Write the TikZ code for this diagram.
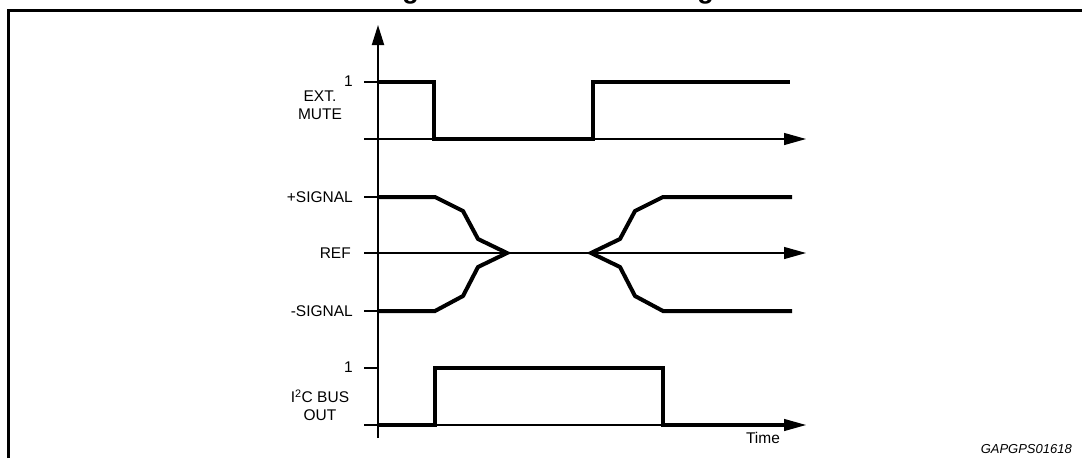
\documentclass[tikz,border=0pt]{standalone}
\usepackage{fontspec}
\setmainfont{Liberation Sans}
\usetikzlibrary{arrows.meta}
\tikzset{
  frameline/.style={line width=3pt},
  axisline/.style={line width=2pt},
  baseline/.style={line width=1.2pt},
  axisarrow/.style={line width=1.2pt,-{Triangle[length=22pt,width=12pt]}},
  yarrow/.style={line width=2pt,-{Triangle[length=20pt,width=12pt]}},
  tick/.style={line width=1.2pt},
  sig/.style={line width=4pt,line join=miter},
  lbl/.style={inner sep=0pt,font=\fontsize{15.5}{18}\selectfont},
  ref/.style={inner sep=0pt,font=\fontsize{13}{15}\selectfont\itshape},
  ttl/.style={inner sep=0pt,font=\fontsize{27}{30}\selectfont\bfseries}
}
\begin{document}
\begin{tikzpicture}[x=1pt,y=-1pt]
\useasboundingbox (0,0) rectangle (1082,458);
% title (cut off at the top)
\node[ttl,anchor=base] (title) at (546,-1.5) {Figure 7. Soft mute timing};
% frame
\coordinate (fl) at (8,458);
\coordinate (fc) at (8,10);
\coordinate (fr) at (1082,10);
\draw[frameline,line join=miter] (fl) -- (fc) -- (fr);
% y axis
\coordinate (ybot) at (378,438);
\coordinate (ytop) at (378,25);
\draw[yarrow] (ybot) -- (ytop);
% ---------- EXT. MUTE ----------
\coordinate (m1t) at (364,82);
\coordinate (m1a) at (378,82);
\coordinate (m0t) at (364,139);
\coordinate (m0e) at (806,139);
\draw[tick] (m1t) -- (m1a);
\draw[axisarrow] (m0t) -- (m0e);
\draw[sig] (378,82) -- (434,82) -- (434,139) -- (593,139) -- (593,82) -- (790,82);
\node[lbl,anchor=east] (one1) at (353,81) {1};
\node[lbl,align=center] (mute) at (320,105.5) {EXT.\\MUTE};
% ---------- SIGNAL ----------
\coordinate (pst) at (364,197);
\coordinate (psa) at (378,197);
\coordinate (rft) at (364,253);
\coordinate (rfe) at (806,253);
\coordinate (nst) at (364,311);
\coordinate (nsa) at (378,311);
\draw[tick] (pst) -- (psa);
\draw[tick] (nst) -- (nsa);
\draw[axisarrow] (rft) -- (rfe);
\draw[sig] (psa) -- (435,197) -- (463,211) -- (478,239) -- (507,253) -- (478,267) -- (463,296) -- (435,311) -- (nsa);
\draw[sig] (792,197) -- (663,197) -- (635,211) -- (620,239) -- (591,253) -- (620,267) -- (635,296) -- (663,311) -- (792,311);
\node[lbl,anchor=east] (plus) at (353,197) {+SIGNAL};
\node[lbl,anchor=east] (reflbl) at (351,253) {REF};
\node[lbl,anchor=east] (minus) at (353,311) {-SIGNAL};
% ---------- I2C BUS OUT ----------
\coordinate (b1t) at (364,368);
\coordinate (b1a) at (378,368);
\coordinate (b0t) at (364,425);
\coordinate (b0e) at (806,425);
\draw[tick] (b1t) -- (b1a);
\draw[axisarrow] (b0t) -- (b0e);
\draw[sig] (378,425) -- (435,425) -- (435,368) -- (663,368) -- (663,425) -- (790,425);
\node[lbl,anchor=east] (one2) at (353,367.5) {1};
\node[lbl,align=center] (bus) at (320,405) {I\textsuperscript{2}C BUS\\OUT};
% ---------- captions ----------
\node[lbl] (time) at (763,438) {Time};
\node[ref,anchor=east] (code) at (1072,449) {GAPGPS01618};
\end{tikzpicture}
\end{document}
